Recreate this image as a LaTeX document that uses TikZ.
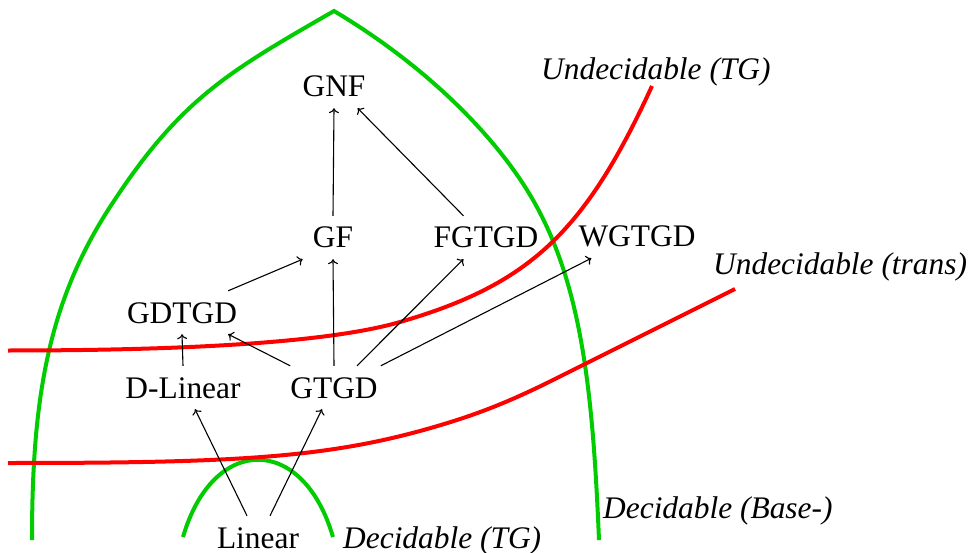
\documentclass[tikz,border=0pt]{standalone}
\usepackage{fontspec}
\setmainfont{Liberation Serif}
\usetikzlibrary{arrows.meta}
\definecolor{setgreen}{RGB}{0,204,0}
\definecolor{setred}{RGB}{255,0,0}
\begin{document}
\begin{tikzpicture}[x=1pt,y=-1pt,
  class/.style={anchor=base, inner xsep=0pt, inner ysep=11pt,
    text height=21pt, text depth=0pt, font=\fontsize{31.4}{36}\selectfont},
  region/.style={anchor=base west, inner sep=0pt,
    font=\fontsize{31.4}{36}\selectfont\itshape},
  decborder/.style={setgreen, line width=4pt},
  undborder/.style={setred, line width=4pt},
  incl/.style={->, line width=1.1pt},
  >={To[length=5pt,width=10pt]}]
\useasboundingbox (0,0) rectangle (974,553);

% decidability borders
\draw[decborder] (32,540) .. controls (32,400) and (47.6,303) .. (110,207)
  .. controls (180,99) and (228,72) .. (334,11)
  .. controls (428.8,67.4) and (498,139) .. (533,200)
  .. controls (583,287) and (593,398) .. (599,540);
\draw[decborder] (183,537) .. controls (213,434) and (303,434) .. (333,537);

% undecidability borders
\draw[undborder] (8,350.5) .. controls (204,350.5) and (335,340.9) .. (400,322)
  .. controls (530,284.3) and (585,232) .. (652,86);
\draw[undborder] (8,463) .. controls (250,463) and (340,457.4) .. (457,420)
  .. controls (490,409.4) and (520,396.5) .. (553,380) -- (735,289);

% classes
\node[class] (gnf) at (334,97) {GNF};
\node[class] (gf) at (333,248) {GF};
\node[class] (fgtgd) at (486,248) {FGTGD};
\node[class] (wgtgd) at (637,247) {WGTGD};
\node[class] (gdtgd) at (182,323) {GDTGD};
\node[class] (dlin) at (183,398) {D-Linear};
\node[class] (gtgd) at (334,398) {GTGD};
\node[class] (lin) at (258,548) {Linear};

% region labels
\node[region] (undtg) at (541,80) {Undecidable (TG)};
\node[region] (undtr) at (713,275) {Undecidable (trans)};
\node[region] (decbase) at (603,518) {Decidable (Base-)};
\node[region] (dectg) at (343,548) {Decidable (TG)};

% inclusions
\draw[incl] (gf.north) -- (gnf.south);
\draw[incl] ([xshift=30pt]fgtgd.north west) -- ([xshift=-8pt]gnf.south east);
\draw[incl] ([xshift=-9pt]gdtgd.north east) -- ([xshift=-10pt]gf.south west);
\draw[incl] (dlin.north) -- (gdtgd.south);
\draw[incl] (gtgd.north west) -- ([xshift=-9pt]gdtgd.south east);
\draw[incl] (gtgd.north) -- (gf.south);
\draw[incl] ([xshift=23pt]gtgd.north) -- ([xshift=30pt]fgtgd.south west);
\draw[incl] ([xshift=3pt]gtgd.north east) -- ([xshift=13pt]wgtgd.south west);
\draw[incl] ([xshift=-11pt]lin.north) -- ([xshift=12pt]dlin.south);
\draw[incl] ([xshift=12pt]lin.north) -- ([xshift=-12pt]gtgd.south);
\end{tikzpicture}
\end{document}
